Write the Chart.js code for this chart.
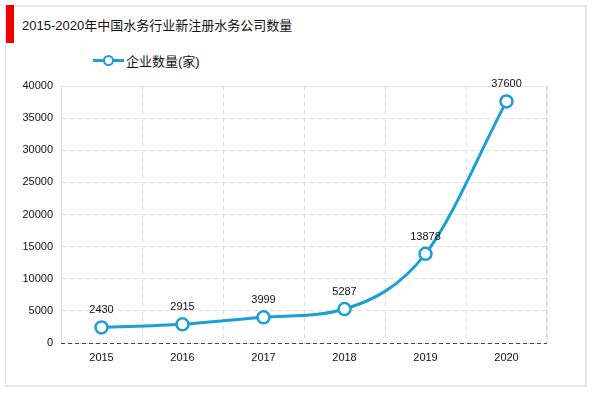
<!DOCTYPE html>
<html>
<head>
<meta charset="utf-8">
<script src="https://cdn.jsdelivr.net/npm/chart.js@4"></script>
<style>
  html, body { margin:0; padding:0; background:#fff; }
  body { width:600px; height:393px; position:relative; overflow:hidden; font-family:"Liberation Sans","Noto Sans CJK SC",sans-serif; }
  .frame { position:absolute; left:5px; top:5px; width:582px; height:382px; border:2px solid #e6e6e6; border-left-width:1px; box-sizing:border-box; }
  .bar { position:absolute; left:6px; top:5px; width:8px; height:38px; background:#f00000; }
  .title { position:absolute; left:22px; top:15px; font-size:13px; color:#111; white-space:nowrap; }
  .legend { position:absolute; left:93px; top:51px; height:18px; display:flex; align-items:center; font-size:13px; color:#111; }
  .legend .sym { position:relative; width:31px; height:18px; margin-right:2px; }
  .legend .sym .ln { position:absolute; left:0; right:0; top:8px; height:3px; background:#1c9fd4; }
  .legend .sym .pt { position:absolute; left:10px; top:4px; width:7px; height:7px; border:2.5px solid #1c9fd4; border-radius:50%; background:#fff; }
  #c { position:absolute; left:0; top:0; }
</style>
</head>
<body>
<div class="frame"></div>
<div class="bar"></div>
<div class="title">2015-2020年中国水务行业新注册水务公司数量</div>
<div class="legend"><div class="sym"><div class="ln"></div><div class="pt"></div></div><span id="legendText"></span></div>
<canvas id="c" width="600" height="393"></canvas>
<script>
const years = ['2015', '2016', '2017', '2018', '2019', '2020'];
const companies = [2430, 2915, 3999, 5287, 13878, 37600];
const seriesName = '企业数量(家)';
const yMax = 40000;
const yStep = 5000;

document.getElementById('legendText').textContent = seriesName;

const blue = '#1c9fd4';

// solid light frame on top/right of plot, dashed dark baseline
const areaBox = {
  id: 'areaBox',
  beforeDatasetsDraw(chart){
    const {ctx, chartArea:a} = chart;
    ctx.save();
    ctx.strokeStyle = '#e0e0e0';
    ctx.lineWidth = 1;
    ctx.beginPath();
    ctx.moveTo(a.left, a.top + .5); ctx.lineTo(a.right - .5, a.top + .5); ctx.lineTo(a.right - .5, a.bottom);
    ctx.stroke();
    ctx.strokeStyle = '#444';
    ctx.setLineDash([4, 3]);
    ctx.beginPath();
    ctx.moveTo(a.left, Math.round(a.bottom) + .5); ctx.lineTo(a.right, Math.round(a.bottom) + .5);
    ctx.stroke();
    ctx.restore();
  }
};

// value labels above points
const valueLabels = {
  id: 'valueLabels',
  afterDatasetsDraw(chart){
    const {ctx} = chart;
    const meta = chart.getDatasetMeta(0);
    ctx.save();
    ctx.font = '11px "Liberation Sans", sans-serif';
    ctx.fillStyle = '#111';
    ctx.textAlign = 'center';
    ctx.textBaseline = 'middle';
    meta.data.forEach((pt, i) => {
      ctx.fillText(String(chart.data.datasets[0].data[i]), pt.x, pt.y - 17);
    });
    ctx.restore();
  }
};

new Chart(document.getElementById('c'), {
  type: 'line',
  data: {
    labels: years,
    datasets: [{
      label: seriesName,
      data: companies,
      borderColor: blue,
      borderWidth: 3,
      backgroundColor: '#fff',
      pointBackgroundColor: '#fff',
      pointBorderColor: blue,
      pointBorderWidth: 2.5,
      pointRadius: 6,
      cubicInterpolationMode: 'monotone',
      fill: false
    }]
  },
  options: {
    responsive: false,
    animation: false,
    layout: { padding: { top: 86, right: 53, bottom: 0, left: 0 } },
    plugins: { legend: { display: false }, tooltip: { enabled: false } },
    scales: {
      x: {
        offset: true,
        grid: { offset: true, color: '#dcdcdc', lineWidth: 1, tickLength: 0 },
        border: { display: false, dash: [4, 4] },
        ticks: { color: '#111', font: { size: 11, family: '"Liberation Sans", sans-serif' }, padding: 8 },
        afterFit(s){ s.height = 50; }
      },
      y: {
        min: 0, max: yMax,
        ticks: { stepSize: yStep, color: '#111', font: { size: 11, family: '"Liberation Sans", sans-serif' }, padding: 8, callback: v => String(v) },
        grid: { color: '#dcdcdc', tickLength: 0 },
        border: { display: true, color: '#dcdcdc', dash: [4, 4] },
        afterFit(s){ s.width = 61; }
      }
    }
  },
  plugins: [areaBox, valueLabels]
});
</script>
</body>
</html>
